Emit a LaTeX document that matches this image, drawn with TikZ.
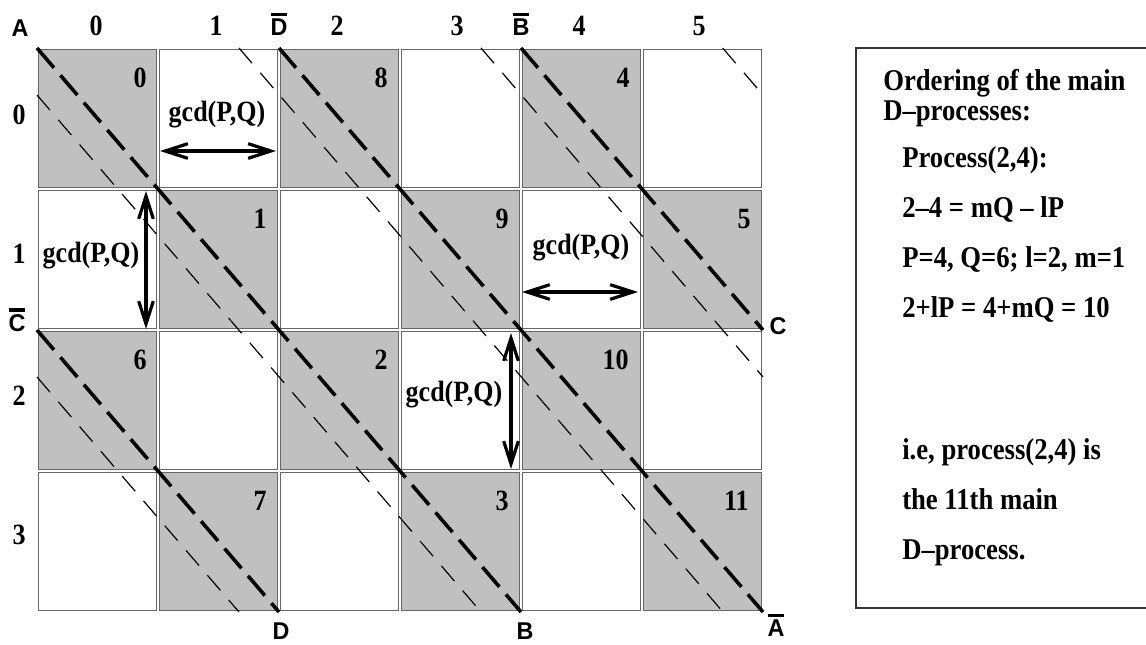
\documentclass[tikz,border=0pt]{standalone}
\usepackage{fontspec}
\usepackage{graphicx}
\setmainfont{Liberation Serif}
\newfontfamily\lsans{Liberation Sans}
\usetikzlibrary{arrows.meta}
\definecolor{shade}{HTML}{C0C0C0}
\newcommand\ob[1]{\setbox0\hbox{#1}\vbox{\hrule height 2.5pt width \wd0\kern 2.0pt\box0}}
\newcommand\vs[1]{\scalebox{1}[1.13]{#1}}
\newcommand\vsl[1]{\scalebox{1}[1.04]{#1}}
\begin{document}
\begin{tikzpicture}[x=0.75pt,y=-0.75pt,
  cellw/.style={draw=black!60, line width=0.6pt, fill=white},
  cellg/.style={draw=black!60, line width=0.6pt, fill=shade},
  thickd/.style={line width=2.7pt, dash pattern=on 19.5pt off 7.5pt},
  thind/.style={line width=0.9pt, dash pattern=on 15pt off 9.5pt},
  num/.style={font=\fontsize{19.5}{22}\selectfont\bfseries, anchor=east, inner sep=0pt},
  hdr/.style={font=\fontsize{19.5}{22}\selectfont\bfseries, inner sep=0pt},
  lab/.style={font=\fontsize{17.5}{20}\selectfont\lsans\bfseries, inner sep=0pt},
  gcdt/.style={font=\fontsize{19.5}{22}\selectfont\bfseries, inner sep=0pt},
  dbl/.style={line width=2.4pt, {Straight Barb[length=17pt,width=11pt]}-{Straight Barb[length=17pt,width=11pt]}},
  boxt/.style={font=\fontsize{20}{24}\selectfont\bfseries, anchor=base west, inner sep=0pt},
]
\useasboundingbox (0,0) rectangle (1146,644);
% cells
\foreach \r in {0,...,3}{
  \foreach \c in {0,...,5}{
    \pgfmathsetmacro\xa{37+121*\c+1.2}
    \pgfmathsetmacro\ya{48+141*\r+1.2}
    \pgfmathsetmacro\xb{37+121*\c+119.8}
    \pgfmathsetmacro\yb{48+141*\r+139.8}
    \pgfmathtruncatemacro\shd{mod(\r+\c,2)}
    \ifnum\shd=0
      \path[cellg] (\xa,\ya) rectangle (\xb,\yb);
    \else
      \path[cellw] (\xa,\ya) rectangle (\xb,\yb);
    \fi
  }
}
% corner coordinates
\coordinate (pA) at (37,48);
\coordinate (pDb) at (279,48);
\coordinate (pBb) at (521,48);
\coordinate (pCb) at (37,330);
\coordinate (pC) at (763,330);
\coordinate (pD) at (279,612);
\coordinate (pB) at (521,612);
\coordinate (pAb) at (763,612);
% thin line ends
\coordinate (t1a) at (37,95);   \coordinate (t1b) at (481,612);
\coordinate (t2a) at (239,48);  \coordinate (t2b) at (723,612);
\coordinate (t3a) at (481,48);  \coordinate (t3b) at (763,377);
\coordinate (t4a) at (37,377);  \coordinate (t4b) at (239,612);
\coordinate (t5a) at (722.7,48); \coordinate (t5b) at (763,95);
\draw[thind] (t1a) -- (t1b);
\draw[thind] (t2a) -- (t2b);
\draw[thind] (t3a) -- (t3b);
\draw[thind] (t4a) -- (t4b);
\draw[thind] (t5a) -- (t5b);
% thick lines
\draw[thickd] (pA) -- (pB);
\draw[thickd] (pDb) -- (pAb);
\draw[thickd] (pBb) -- (pC);
\draw[thickd] (pCb) -- (pD);
% cell numbers
\node[num] (n0) at (147,78) {\vs{0}};
\node[num] (n8) at (388,78) {\vs{8}};
\node[num] (n4) at (630,78) {\vs{4}};
\node[num] (n1) at (267,219) {\vs{1}};
\node[num] (n9) at (509,219) {\vs{9}};
\node[num] (n5) at (751,219) {\vs{5}};
\node[num] (n6) at (147,360) {\vs{6}};
\node[num] (n2) at (388,360) {\vs{2}};
\node[num] (n10) at (629,360) {\vs{10}};
\node[num] (n7) at (267,501) {\vs{7}};
\node[num] (n3) at (509,501) {\vs{3}};
\node[num] (n11) at (749,501) {\vs{11}};
% headers
\node[hdr] (h0) at (96,26) {\vs{0}};
\node[hdr] (h1) at (216,26) {\vs{1}};
\node[hdr] (h2) at (337,26) {\vs{2}};
\node[hdr] (h3) at (457,26) {\vs{3}};
\node[hdr] (h4) at (579,26) {\vs{4}};
\node[hdr] (h5) at (699,26) {\vs{5}};
\node[hdr] (r0) at (19,115) {\vs{0}};
\node[hdr] (r1) at (19,254) {\vs{1}};
\node[hdr] (r2) at (19,396) {\vs{2}};
\node[hdr] (r3) at (19,535) {\vs{3}};
% letter labels
\node[lab] (lA) at (20,28) {\vsl{A}};
\node[lab] (lDb) at (279,24) {\vsl{\ob{D}}};
\node[lab] (lBb) at (521,24) {\vsl{\ob{B}}};
\node[lab] (lCb) at (17,320) {\vsl{\ob{C}}};
\node[lab] (lC) at (778,326) {\vsl{C}};
\node[lab] (lD) at (281,631) {\vsl{D}};
\node[lab] (lB) at (525,631) {\vsl{B}};
\node[lab] (lAb) at (776,625) {\vsl{\ob{A}}};
% gcd arrows
\node[gcdt] (g1) at (217,115) {\vs{gcd(P,Q)}};
\node[gcdt] (g2) at (91,256) {\vs{gcd(P,Q)}};
\node[gcdt] (g3) at (581,248) {\vs{gcd(P,Q)}};
\node[gcdt] (g4) at (454,395) {\vs{gcd(P,Q)}};
\coordinate (a1a) at (160,151); \coordinate (a1b) at (276,151);
\coordinate (a2a) at (146,191); \coordinate (a2b) at (146,329);
\coordinate (a3a) at (522,292); \coordinate (a3b) at (638,292);
\coordinate (a4a) at (511,333); \coordinate (a4b) at (511,469);
\draw[dbl] (a1a) -- (a1b);
\draw[dbl] (a2a) -- (a2b);
\draw[dbl] (a3a) -- (a3b);
\draw[dbl] (a4a) -- (a4b);
% right box
\coordinate (bx1) at (1146,48);
\coordinate (bx2) at (856,48);
\coordinate (bx3) at (856,608);
\coordinate (bx4) at (1146,608);
\draw[line width=1pt, black!80] (bx1) -- (bx2) -- (bx3) -- (bx4);
\node[boxt] (b1) at (883,90) {\vs{Ordering of the main}};
\node[boxt] (b2) at (883,120) {\vs{D–processes:}};
\node[boxt] (b3) at (902,167) {\vs{Process(2,4):}};
\node[boxt] (b4) at (902,217) {\vs{2–4 = mQ – lP}};
\node[boxt] (b5) at (902,267) {\vs{P=4, Q=6; l=2, m=1}};
\node[boxt] (b6) at (902,317) {\vs{2+lP = 4+mQ = 10}};
\node[boxt] (b7) at (902,459) {\vs{i.e, process(2,4) is}};
\node[boxt] (b8) at (902,509) {\vs{the 11th main}};
\node[boxt] (b9) at (902,559) {\vs{D–process.}};
\end{tikzpicture}
\end{document}
